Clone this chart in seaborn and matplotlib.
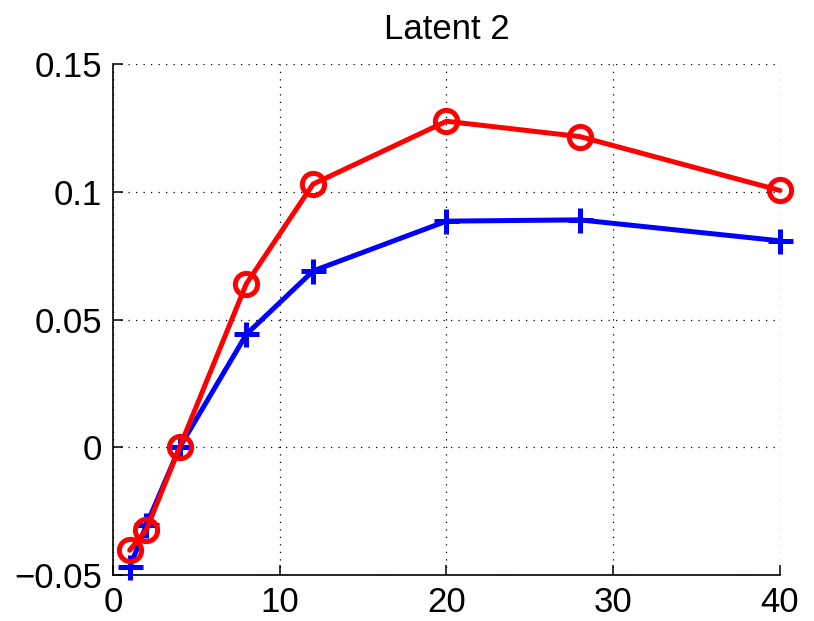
import matplotlib
matplotlib.use("Agg")
import matplotlib.pyplot as plt
import seaborn as sns
import pandas as pd

horizons = [1, 2, 4, 8, 12, 20, 28, 40]
blue_vals = [-0.047, -0.0305, 0.0, 0.0442, 0.0690, 0.0885, 0.0890, 0.0808]
red_vals = [-0.0403, -0.0323, 0.0, 0.0640, 0.1030, 0.1276, 0.1216, 0.1005]
title = "Latent 2"
xticks = [0, 10, 20, 30, 40]
yticks = [-0.05, 0, 0.05, 0.1, 0.15]
ytick_labels = ["\u22120.05", "0", "0.05", "0.1", "0.15"]

sns.set_style("white")
plt.rcParams['font.family'] = ['Liberation Sans', 'DejaVu Sans']
plt.rcParams['text.color'] = 'black'

fig = plt.figure(figsize=(8.14, 6.21), dpi=100)
ax = fig.add_axes([0.1388, 0.0741, 0.8194, 0.8228])

df_b = pd.DataFrame({"h": horizons, "v": blue_vals})
df_r = pd.DataFrame({"h": horizons, "v": red_vals})

sns.lineplot(data=df_b, x="h", y="v", ax=ax, color="#0000ff", linewidth=3.6,
             marker="+", markersize=18, markeredgewidth=3.6, markeredgecolor="#0000ff",
             zorder=3, clip_on=False)
sns.lineplot(data=df_r, x="h", y="v", ax=ax, color="#ff0000", linewidth=3.6,
             marker="o", markersize=16, markeredgewidth=3.6, markerfacecolor="none",
             markeredgecolor="#ff0000", zorder=4, clip_on=False)

ax.set_xlim(0, 40)
ax.set_ylim(-0.05, 0.15)
ax.set_xticks(xticks)
ax.set_xticklabels([str(t) for t in xticks])
ax.set_yticks(yticks)
ax.set_yticklabels(ytick_labels)
ax.set_xlabel("")
ax.set_ylabel("")
ax.set_title(title, fontsize=25, pad=18, color="black")

ax.grid(True, color="black", linestyle=(0, (1, 5)), linewidth=0.9)
for s in ["top", "right"]:
    ax.spines[s].set_visible(False)
for s in ["left", "bottom"]:
    ax.spines[s].set_color("black")
    ax.spines[s].set_linewidth(1.2)
ax.tick_params(direction="in", length=7, width=1.1, labelsize=25, colors="black",
               left=True, bottom=True, pad=8)
ax.set_facecolor("white")

fig.savefig("out.png", dpi=100, facecolor="white")
